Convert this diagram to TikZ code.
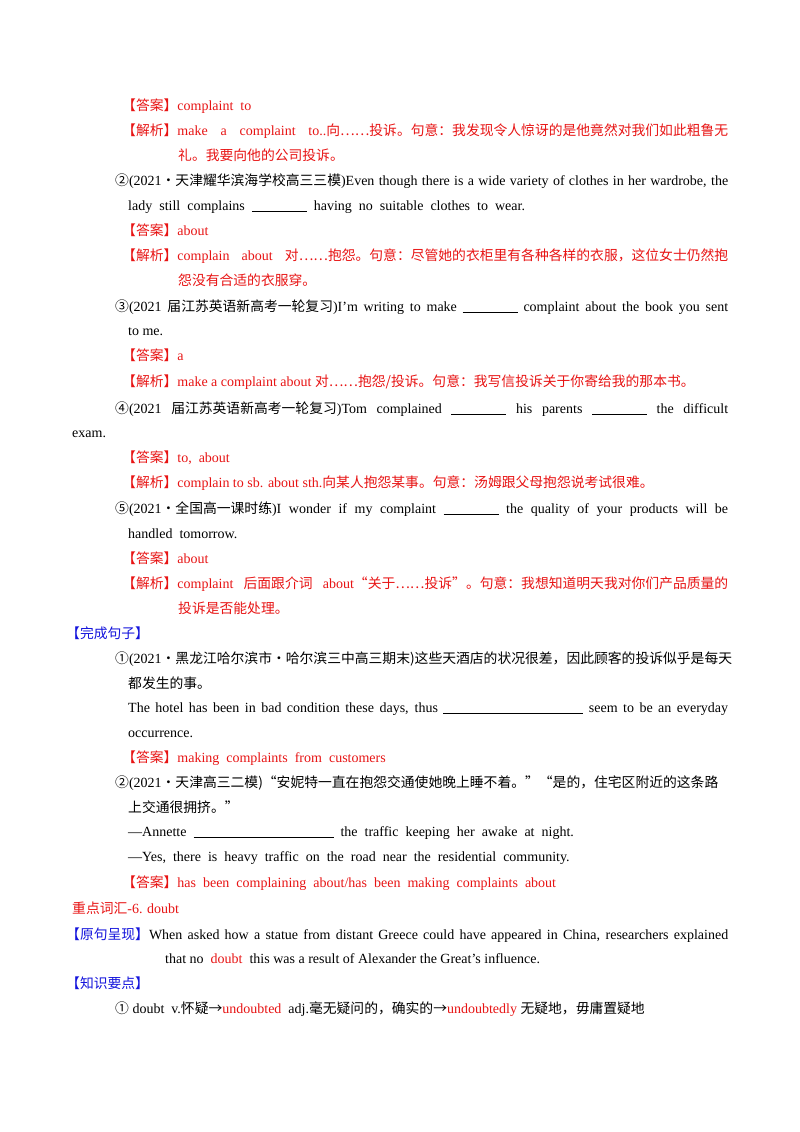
\documentclass[tikz,border=0pt]{standalone}
\usepackage{fontspec}
\setmainfont{Liberation Serif}
\newfontfamily\cjk{Noto Sans CJK SC}
\definecolor{rd}{RGB}{232,20,20}
\definecolor{bl}{RGB}{20,20,220}
\newcommand{\zh}[1]{{\cjk\fontsize{13.8}{15}\selectfont #1}}
\newcommand{\blk}[1]{\rule[-2pt]{#1pt}{0.6pt}}
\newcommand{\DA}{\zh{【答案】}}
\newcommand{\JX}{\zh{【解析】}}
\tikzset{ln/.style={anchor=base west,inner sep=0pt,font=\fontsize{14}{15}\selectfont}}
\newcommand{\J}[2]{\makebox[#1pt][s]{#2}}
\begin{document}
\begin{tikzpicture}[x=1pt,y=-1pt]
\useasboundingbox (0,0) rectangle (800,1132);
\fill[white] (0,0) rectangle (800,1132);
\node[ln,rd] (l1) at (122,110) {\DA complaint\ \ to};
\node[ln,rd] (l2) at (122,135) {\J{606}{\JX make a complaint to..\zh{向……投诉。句意：我发现令人惊讶的是他竟然对我们如此粗鲁无}}};
\node[ln,rd] (l3) at (178,160) {\zh{礼。我要向他的公司投诉。}};
\node[ln] (l4) at (115,185) {\J{613}{\zh{②}(2021\zh{·天津耀华滨海学校高三三模})Even though there is a wide variety of clothes in her wardrobe, the}};
\node[ln] (l5) at (128,210) {lady\ \ still\ \ complains\ \ \blk{55}\ \ having\ \ no\ \ suitable\ \ clothes\ \ to\ \ wear.};
\node[ln,rd] (l6) at (122,235) {\DA about};
\node[ln,rd] (l7) at (122,260) {\J{606}{\JX complain about \zh{对……抱怨。句意：尽管她的衣柜里有各种各样的衣服，这位女士仍然抱}}};
\node[ln,rd] (l8) at (178,285) {\zh{怨没有合适的衣服穿。}};
\node[ln] (l9) at (115,311) {\J{613}{\zh{③}(2021 \zh{届江苏英语新高考一轮复习})I'm writing to make \blk{55} complaint about the book you sent}};
\node[ln] (l10) at (128,335) {to me.};
\node[ln,rd] (l11) at (122,360) {\DA a};
\node[ln,rd] (l12) at (122,386) {\JX make a complaint about \zh{对……抱怨/投诉。句意：我写信投诉关于你寄给我的那本书。}};
\node[ln] (l13) at (115,413) {\J{613}{\zh{④}(2021 \zh{届江苏英语新高考一轮复习})Tom complained \blk{55} his parents \blk{55} the difficult}};
\node[ln] (l14) at (72,437) {exam.};
\node[ln,rd] (l15) at (122,462) {\DA to,\ \ about};
\node[ln,rd] (l16) at (122,487) {\JX complain to sb. about sth.\zh{向某人抱怨某事。句意：汤姆跟父母抱怨说考试很难。}};
\node[ln] (l17) at (115,513) {\J{613}{\zh{⑤}(2021\zh{·全国高一课时练})I wonder if my complaint \blk{55} the quality of your products will be}};
\node[ln] (l18) at (128,538) {handled\ \ tomorrow.};
\node[ln,rd] (l19) at (122,563) {\DA about};
\node[ln,rd] (l20) at (122,588) {\J{606}{\JX complaint \zh{后面跟介词} about\zh{“关于……投诉”。句意：我想知道明天我对你们产品质量的}}};
\node[ln,rd] (l21) at (178,613) {\zh{投诉是否能处理。}};
\node[ln,bl] (l22) at (66,638) {\zh{【完成句子】}};
\node[ln] (l23) at (115,663) {\zh{①}(2021\zh{·黑龙江哈尔滨市·哈尔滨三中高三期末)这些天酒店的状况很差，因此顾客的投诉似乎是每天}};
\node[ln] (l24) at (128,688) {\zh{都发生的事。}};
\node[ln] (l25) at (128,712) {\J{600}{The hotel has been in bad condition these days, thus \blk{140} seem to be an everyday}};
\node[ln] (l26) at (128,737) {occurrence.};
\node[ln,rd] (l27) at (122,762) {\DA making\ \ complaints\ \ from\ \ customers};
\node[ln] (l28) at (115,787) {\zh{②}(2021\zh{·天津高三二模)“安妮特一直在抱怨交通使她晚上睡不着。”“是的，住宅区附近的这条路}};
\node[ln] (l29) at (128,812) {\zh{上交通很拥挤。”}};
\node[ln] (l30) at (128,836) {—Annette\ \ \blk{140}\ \ the\ \ traffic\ \ keeping\ \ her\ \ awake\ \ at\ \ night.};
\node[ln] (l31) at (128,861) {—Yes,\ \ there\ \ is\ \ heavy\ \ traffic\ \ on\ \ the\ \ road\ \ near\ \ the\ \ residential\ \ community.};
\node[ln,rd] (l32) at (122,887) {\DA has\ \ been\ \ complaining\ \ about/has\ \ been\ \ making\ \ complaints\ \ about};
\node[ln,rd] (l33) at (72,913) {\zh{重点词汇}-6. doubt};
\node[ln] (l34) at (66,939) {\J{662}{\textcolor{bl}{\zh{【原句呈现】}}When asked how a statue from distant Greece could have appeared in China, researchers explained}};
\node[ln] (l35) at (165,963) {that no\ \ \textcolor{rd}{doubt}\ \ this was a result of Alexander the Great's influence.};
\node[ln,bl] (l36) at (66,988) {\zh{【知识要点】}};
\node[ln] (l37) at (115,1013) {\zh{①} doubt\ \ v.\zh{怀疑→}\textcolor{rd}{undoubted}\ \ adj.\zh{毫无疑问的，确实的→}\textcolor{rd}{undoubtedly} \zh{无疑地，毋庸置疑地}};
\end{tikzpicture}
\end{document}
